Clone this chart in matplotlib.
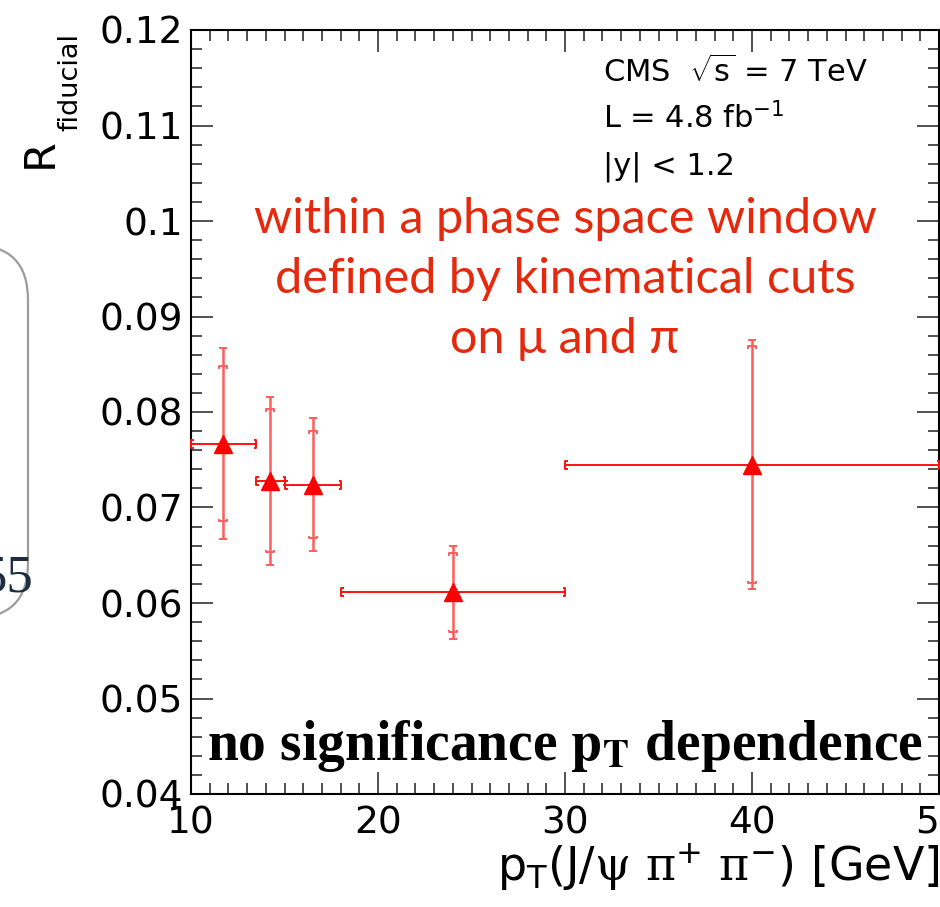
import numpy as np
import matplotlib
matplotlib.use("Agg")
import matplotlib.pyplot as plt
from matplotlib.path import Path
from matplotlib.patches import FancyBboxPatch
from matplotlib.ticker import MultipleLocator, FuncFormatter

# ---- data ----
pt_center = np.array([11.7, 14.25, 16.5, 24.0, 40.0])
bin_lo = np.array([10.0, 13.5, 15.0, 18.0, 30.0])
bin_hi = np.array([13.5, 15.0, 18.0, 30.0, 50.0])
r_fid = np.array([0.0767, 0.0728, 0.0724, 0.0611, 0.0745])
err_stat = np.array([0.0081, 0.0075, 0.0056, 0.0041, 0.0124])
err_tot = np.array([0.0100, 0.0088, 0.0070, 0.0049, 0.0130])

x_ticks = [10, 20, 30, 40, 50]
y_ticks = [0.04, 0.05, 0.06, 0.07, 0.08, 0.09, 0.10, 0.11, 0.12]

plt.rcParams['font.family'] = ['DejaVu Sans']
plt.rcParams['mathtext.fontset'] = 'custom'
plt.rcParams['mathtext.rm'] = 'DejaVu Sans'
plt.rcParams['mathtext.it'] = 'DejaVu Sans:italic'
plt.rcParams['mathtext.bf'] = 'DejaVu Sans:bold'
plt.rcParams['mathtext.sf'] = 'DejaVu Serif'

W, H = 940, 907
fig = plt.figure(figsize=(W / 100, H / 100), dpi=100)
ax = fig.add_axes([191 / W, 113 / H, 748 / W, 764 / H])

red_v = '#ff5c5c'
red_h = '#ff1010'

# ROOT-style bracket ends
cap_top = Path([(-1, -0.6), (-1, 0), (1, 0), (1, -0.6)])
cap_bot = Path([(-1, 0.6), (-1, 0), (1, 0), (1, 0.6)])
cap_left = Path([(0.6, 1), (0, 1), (0, -1), (0.6, -1)])
cap_right = Path([(-0.6, 1), (0, 1), (0, -1), (-0.6, -1)])

# total uncertainty
ax.errorbar(pt_center, r_fid, yerr=err_tot, fmt='none', ecolor=red_v,
            elinewidth=1.8, capsize=3.0, capthick=1.4, zorder=3)
# statistical uncertainty end brackets
ax.plot(pt_center, r_fid + err_stat, ls='none', marker=cap_top, ms=6,
        mfc='none', mec=red_v, mew=1.4, zorder=3)
ax.plot(pt_center, r_fid - err_stat, ls='none', marker=cap_bot, ms=6,
        mfc='none', mec=red_v, mew=1.4, zorder=3)
# bin widths
ax.errorbar(pt_center, r_fid, xerr=[pt_center - bin_lo, bin_hi - pt_center],
            fmt='none', ecolor=red_h, elinewidth=1.4, capsize=0, zorder=4)
ax.plot(bin_lo, r_fid, ls='none', marker=cap_left, ms=6,
        mfc='none', mec=red_h, mew=1.4, zorder=4, clip_on=False)
ax.plot(bin_hi, r_fid, ls='none', marker=cap_right, ms=6,
        mfc='none', mec=red_h, mew=1.4, zorder=4, clip_on=False)
ax.plot(pt_center, r_fid, ls='none', marker='^', ms=12.5, color='red',
        mec='red', zorder=5)

ax.set_xlim(10, 50)
ax.set_ylim(0.04, 0.12)
ax.set_xticks(x_ticks)
ax.set_yticks(y_ticks)
ax.xaxis.set_minor_locator(MultipleLocator(1))
ax.yaxis.set_minor_locator(MultipleLocator(0.002))
ax.yaxis.set_major_formatter(FuncFormatter(lambda v, p: f"{v:g}"))
ax.xaxis.set_major_formatter(FuncFormatter(lambda v, p: f"{v:g}"))
ax.tick_params(which='both', direction='in', top=True, right=True,
               width=1.1, color='#222222', labelsize=27)
ax.tick_params(which='major', length=16)
ax.tick_params(which='minor', length=8)
ax.tick_params(axis='y', pad=6)
ax.tick_params(axis='x', pad=8)
for s in ax.spines.values():
    s.set_linewidth(1.5)
    s.set_color('black')

# y-axis title: R with a lowered subscript
fig.text(52 / W, 1 - 168 / H, 'R', rotation=90, rotation_mode='anchor',
         ha='left', va='baseline', fontsize=31)
fig.text(77 / W, 1 - 131 / H, 'fiducial', rotation=90, rotation_mode='anchor',
         ha='left', va='baseline', fontsize=19.5)

ax.set_xlabel(r'$\mathrm{p}_{\mathrm{T}}\mathrm{(J/}\mathsf{\psi}\ \mathsf{\pi}^{+}\ \mathsf{\pi}^{-}\mathrm{)\ [GeV]}$',
              fontsize=33, loc='right')
ax.xaxis.set_label_coords(1.0, -0.062)

# experiment info
fig.text(603 / W, 1 - 82 / H, r'CMS  $\sqrt{\mathrm{s}}$ = 7 TeV', fontsize=22,
         va='baseline')
fig.text(603 / W, 1 - 128 / H, r'L = 4.8 fb$^{\mathrm{-1}}$', fontsize=22,
         va='baseline')
fig.text(603 / W, 1 - 175 / H, '|y| < 1.2', fontsize=22, va='baseline')

# annotations
note_color = '#e5290c'
note_lines = ['within a phase space window', 'defined by kinematical cuts',
              'on μ and π']
for line, yb in zip(note_lines, [233, 293, 353]):
    fig.text(565 / W, 1 - yb / H, line, fontsize=35, family='Lato',
             color=note_color, ha='center', va='baseline')

fig.text(207 / W, 1 - 760 / H, r'no significance $\mathbf{p}_{\mathbf{T}}$ dependence',
         fontsize=40, family='Liberation Serif', weight='bold',
         math_fontfamily='stix', va='baseline')

# neighbouring slide frame at the left edge
frame = FancyBboxPatch((-3.0, (H - 618) / 100), 3.28, 3.73,
                       boxstyle='round,pad=0,rounding_size=0.55',
                       transform=fig.dpi_scale_trans, fill=False,
                       ec='#9c9c9c', lw=1.6)
fig.add_artist(frame)
fig.text(34 / W, 1 - 592 / H, '55', fontsize=38, family='Liberation Serif',
         color='#1d2c40', ha='right', va='baseline')

fig.savefig('out.png', dpi=100)
